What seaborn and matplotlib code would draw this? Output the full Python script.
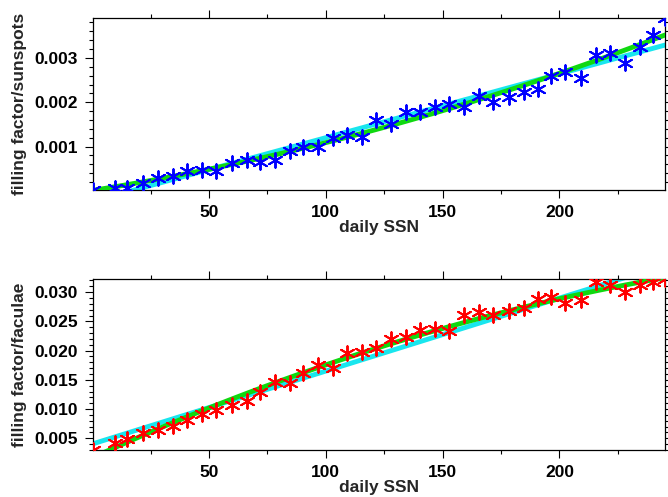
import numpy as np
import pandas as pd
import matplotlib
matplotlib.use("Agg")
import matplotlib.pyplot as plt
from matplotlib.ticker import MultipleLocator, FormatStrFormatter
import seaborn as sns

# daily sunspot number bins (shared by both panels)
ssn = [0.3, 9.7, 14.8, 21.7, 28.1, 34.6, 40.7, 46.9, 53.2, 59.7, 66.1, 71.8, 78.1,
       84.6, 90.4, 96.5, 103.0, 109.1, 115.5, 121.5, 127.9, 134.5, 140.4, 146.8,
       152.9, 159.3, 165.7, 171.7, 178.3, 184.7, 191.0, 196.5, 202.6, 209.3,
       215.5, 221.6, 228.0, 234.3, 240.0, 245.2]

# filling factor of sunspots
ff_spots = [0.00002, 0.00007, 0.00007, 0.00018, 0.00030, 0.00034, 0.00045, 0.00047,
            0.00045, 0.00063, 0.00070, 0.00065, 0.00070, 0.00089, 0.00098, 0.00100,
            0.00120, 0.00125, 0.00121, 0.00159, 0.00150, 0.00178, 0.00178, 0.00189,
            0.00195, 0.00189, 0.00214, 0.00200, 0.00212, 0.00223, 0.00231, 0.00260,
            0.00269, 0.00255, 0.00307, 0.00311, 0.00288, 0.00324, 0.00352, 0.00390]

# filling factor of faculae
ff_fac = [0.0030, 0.00425, 0.00483, 0.00596, 0.00645, 0.00710, 0.00805, 0.00915,
          0.00988, 0.01070, 0.01142, 0.01300, 0.01470, 0.01448, 0.01610, 0.01752,
          0.01696, 0.01952, 0.01980, 0.02048, 0.02196, 0.02225, 0.02350, 0.02367,
          0.02338, 0.02606, 0.02652, 0.02606, 0.02675, 0.02730, 0.02875, 0.02919,
          0.02817, 0.02862, 0.03175, 0.03119, 0.03004, 0.03119, 0.03165, 0.03230]

spots = pd.DataFrame({"ssn": ssn, "ff": ff_spots})
fac = pd.DataFrame({"ssn": ssn, "ff": ff_fac})

sns.set_style("ticks")
plt.rcParams["font.family"] = ["Liberation Sans", "DejaVu Sans"]
plt.rcParams["font.weight"] = "bold"
plt.rcParams["axes.labelweight"] = "bold"

fig = plt.figure(figsize=(6.68, 4.97), dpi=100)
ax1 = fig.add_axes([0.139, 0.6177, 0.8565, 0.346])
ax2 = fig.add_axes([0.139, 0.0946, 0.8565, 0.3447])

asterisk = (6, 2, 0)
fs = 12.5

for ax, df, col, ylab, ylim, ymaj, ymin in [
        (ax1, spots, "blue", "filling factor/sunspots", (0.00002, 0.0039), 0.001, 0.0002),
        (ax2, fac, "red", "filling factor/faculae", (0.003, 0.0323), 0.005, 0.001)]:
    sns.regplot(data=df, x="ssn", y="ff", order=1, ci=None, scatter=False, ax=ax,
                line_kws=dict(color="#19e6ee", lw=3.5, zorder=2))
    sns.regplot(data=df, x="ssn", y="ff", order=2, ci=None, scatter=False, ax=ax,
                line_kws=dict(color="#10d810", lw=3.5, zorder=3))
    sns.scatterplot(data=df, x="ssn", y="ff", ax=ax, marker=asterisk, s=110,
                    color=col, edgecolor=col, linewidth=1.4, zorder=4)
    ax.set_xlim(0.3, 245.2)
    ax.set_ylim(*ylim)
    ax.xaxis.set_major_locator(MultipleLocator(50))
    ax.xaxis.set_minor_locator(MultipleLocator(25))
    ax.yaxis.set_major_locator(MultipleLocator(ymaj))
    ax.yaxis.set_minor_locator(MultipleLocator(ymin))
    ax.yaxis.set_major_formatter(FormatStrFormatter("%.3f"))
    ax.tick_params(which="both", direction="out", top=True, right=True,
                   labelsize=fs, width=0.8, colors="black")
    ax.tick_params(which="major", length=6, pad=5)
    ax.tick_params(which="minor", length=3)
    ax.set_xlabel("daily SSN", fontsize=fs, fontweight="bold", labelpad=0)
    ax.set_ylabel(ylab, fontsize=fs, fontweight="bold", labelpad=5)
    for s in ax.spines.values():
        s.set_linewidth(0.9)
        s.set_color("black")

fig.savefig("out.png", dpi=100)
